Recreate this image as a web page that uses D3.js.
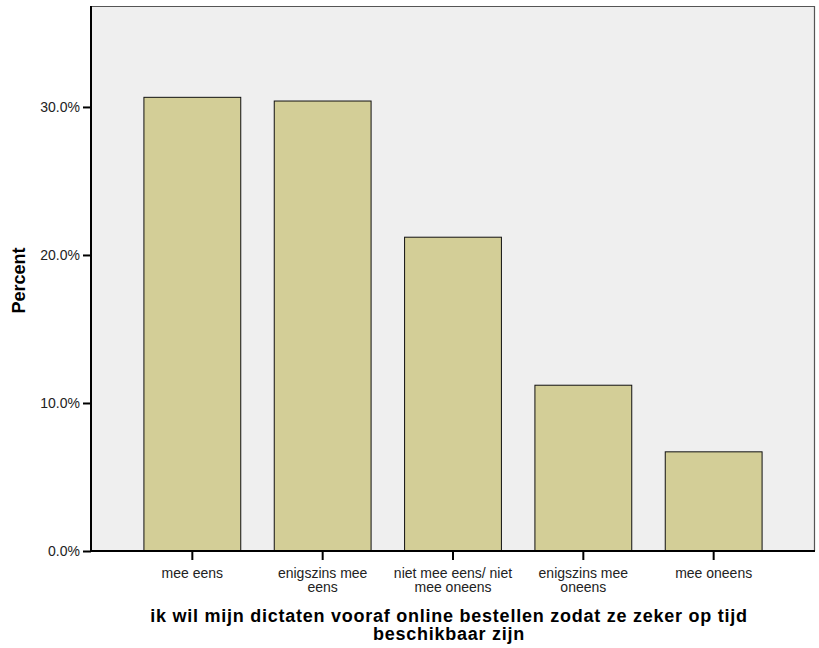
<!DOCTYPE html>
<html>
<head>
<meta charset="utf-8">
<script src="https://cdn.jsdelivr.net/npm/d3@7"></script>
<style>
  body { margin: 0; background: #fff; }
  svg { font-family: "Liberation Sans", Arial, sans-serif; }
</style>
</head>
<body>
<div id="chart"></div>
<script>
// data
const categories = ["mee eens", "enigszins mee eens", "niet mee eens/ niet mee oneens", "enigszins mee oneens", "mee oneens"];
const categoryLines = [["mee eens"], ["enigszins mee", "eens"], ["niet mee eens/ niet", "mee oneens"], ["enigszins mee", "oneens"], ["mee oneens"]];
const percents = [30.65, 30.4, 21.2, 11.2, 6.7];
const yTicks = [0, 10, 20, 30];
const xTitleLines = ["ik wil mijn dictaten vooraf online bestellen zodat ze zeker op tijd", "beschikbaar zijn"];
const yTitle = "Percent";

const width = 819, height = 648;
const plot = {left: 91, top: 6, right: 815, bottom: 551};

const svg = d3.select('#chart').append('svg')
    .attr('width', width)
    .attr('height', height);

const x = d3.scaleBand()
    .domain(categories)
    .range([plot.left, plot.right])
    .paddingInner(0.257)
    .paddingOuter(0.406);

const y = d3.scaleLinear()
    .domain([0, 36.82])
    .range([plot.bottom, plot.top]);

// plot background
svg.append('rect')
    .attr('x', plot.left).attr('y', plot.top)
    .attr('width', plot.right - plot.left)
    .attr('height', plot.bottom - plot.top)
    .attr('fill', '#efefef');

// top / right frame
svg.append('path')
    .attr('d', `M${plot.left},${plot.top + 0.5}H${plot.right - 0.5}V${plot.bottom}`)
    .attr('fill', 'none')
    .attr('stroke', '#555')
    .attr('stroke-width', 1.2);

// bars
svg.append('g').selectAll('rect')
    .data(percents)
    .join('rect')
    .attr('x', (d, i) => x(categories[i]))
    .attr('y', d => y(d))
    .attr('width', x.bandwidth())
    .attr('height', d => y(0) - y(d))
    .attr('fill', '#d3ce97')
    .attr('stroke', '#111')
    .attr('stroke-width', 1);

// y axis
const yAxis = svg.append('g')
    .attr('transform', `translate(${plot.left},0)`)
    .call(d3.axisLeft(y).tickValues(yTicks).tickSize(8).tickPadding(3)
        .tickFormat(d => d.toFixed(1) + '%'));
yAxis.select('.domain').remove();
yAxis.selectAll('.tick line').attr('stroke', '#000').attr('stroke-width', 2);
yAxis.selectAll('.tick text').attr('font-size', 14).attr('fill', '#222')
    .attr('font-family', '"Liberation Sans", Arial, sans-serif');
svg.append('line')
    .attr('x1', plot.left).attr('x2', plot.left)
    .attr('y1', plot.top).attr('y2', plot.bottom + 1)
    .attr('stroke', '#000').attr('stroke-width', 2);

// x axis
const xAxis = svg.append('g')
    .attr('transform', `translate(0,${plot.bottom})`)
    .call(d3.axisBottom(x).tickSize(9).tickFormat(''));
xAxis.select('.domain').remove();
xAxis.selectAll('.tick line').attr('stroke', '#000').attr('stroke-width', 2);
svg.append('line')
    .attr('x1', plot.left - 1).attr('x2', plot.right)
    .attr('y1', plot.bottom).attr('y2', plot.bottom)
    .attr('stroke', '#000').attr('stroke-width', 2);

// wrapped category labels
xAxis.selectAll('.tick').each(function(d, i) {
    const t = d3.select(this).append('text')
        .attr('text-anchor', 'middle')
        .attr('font-size', 14)
        .attr('fill', '#222')
        .attr('y', 27);
    categoryLines[i].forEach((line, k) => {
        t.append('tspan').attr('x', 0).attr('dy', k === 0 ? 0 : 14).text(line);
    });
});

// axis titles
const cx = (plot.left + plot.right) / 2 - 4;
const xt = svg.append('text')
    .attr('x', cx)
    .attr('y', 622)
    .attr('text-anchor', 'middle')
    .attr('font-size', 18)
    .attr('letter-spacing', 0.75)
    .attr('font-weight', 'bold')
    .attr('fill', '#000');
xTitleLines.forEach((line, k) => {
    xt.append('tspan').attr('x', cx)
        .attr('dy', k === 0 ? 0 : 18).text(line);
});

svg.append('text')
    .attr('transform', `translate(25,${(plot.top + plot.bottom) / 2 + 2}) rotate(-90)`)
    .attr('text-anchor', 'middle')
    .attr('font-size', 18)
    .attr('font-weight', 'bold')
    .attr('fill', '#000')
    .text(yTitle);
</script>
</body>
</html>
